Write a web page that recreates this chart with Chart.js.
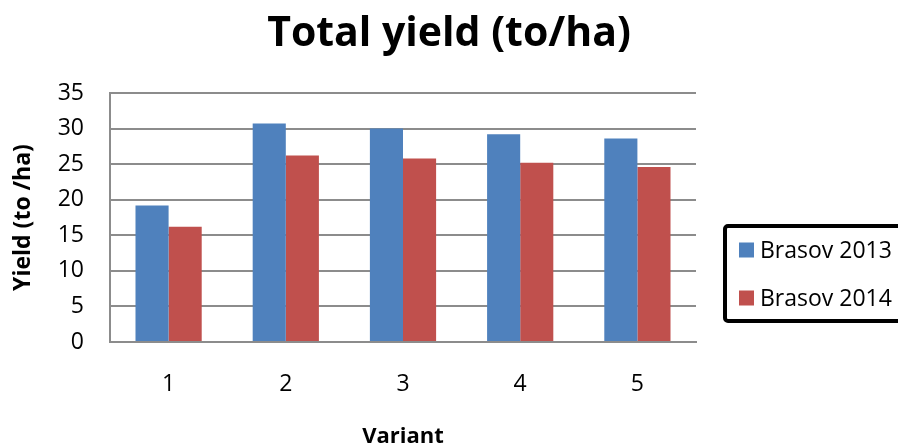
<!DOCTYPE html>
<html>
<head>
<meta charset="utf-8">
<script src="https://cdn.jsdelivr.net/npm/chart.js@4.4.1/dist/chart.umd.min.js"></script>
<style>
  html, body { margin: 0; padding: 0; background: #ffffff; }
  #wrap { width: 898px; height: 444px; }
</style>
</head>
<body>
<div id="wrap"><canvas id="chart" width="898" height="444"></canvas></div>
<script>
// Total yield per variant, two seasons at Brasov
const variants = ['1', '2', '3', '4', '5'];
const seriesNames = ['Brasov 2013', 'Brasov 2014'];
const yield2013 = [19.2, 30.7, 30.0, 29.2, 28.6];
const yield2014 = [16.2, 26.2, 25.8, 25.2, 24.6];
const seriesColors = ['#4F81BD', '#C0504D'];

const FONT = '"Open Sans", Lato, sans-serif';

// Boxed legend on the right side, drawn from the dataset list
const boxedLegend = {
  id: 'boxedLegend',
  afterDraw(chart) {
    const ctx = chart.ctx;
    const x0 = 725, y0 = 226, w = 190, h = 95;
    ctx.save();
    ctx.lineWidth = 4;
    ctx.strokeStyle = '#000000';
    ctx.beginPath();
    ctx.roundRect(x0, y0, w, h, 3);
    ctx.stroke();
    ctx.font = '23px ' + FONT;
    ctx.textBaseline = 'middle';
    ctx.textAlign = 'left';
    chart.data.datasets.forEach((ds, i) => {
      const cy = 250 + i * 48;
      ctx.fillStyle = ds.backgroundColor;
      ctx.fillRect(739, cy - 7.5, 15, 15);
      ctx.fillStyle = '#000000';
      ctx.fillText(ds.label, 760, cy + 1.5);
    });
    ctx.restore();
  }
};

new Chart(document.getElementById('chart'), {
  type: 'bar',
  data: {
    labels: variants,
    datasets: [
      { label: seriesNames[0], data: yield2013, backgroundColor: seriesColors[0], yAxisID: 'y' },
      { label: seriesNames[1], data: yield2014, backgroundColor: seriesColors[1], yAxisID: 'y' }
    ]
  },
  options: {
    responsive: false,
    animation: false,
    layout: { padding: 0 },
    datasets: { bar: { barPercentage: 1.0, categoryPercentage: 0.565 } },
    plugins: {
      legend: { display: false },
      tooltip: { enabled: false },
      title: {
        display: true,
        text: 'Total yield (to/ha)',
        color: '#000000',
        font: { family: FONT, size: 41, weight: 'bold', lineHeight: 1.2 },
        padding: { top: 9.6, bottom: 34.2 },
        align: 'center'
      }
    },
    scales: {
      x: {
        afterFit(scale) { scale.height = 102; },
        grid: { display: false, drawTicks: false },
        border: { display: true, color: '#8C8C8C', width: 2 },
        ticks: { color: '#000000', font: { family: FONT, size: 23, lineHeight: 1.2 }, padding: 29 },
        title: {
          display: true,
          text: 'Variant',
          color: '#000000',
          font: { family: FONT, size: 22, weight: 'bold', lineHeight: 1.2 },
          padding: { top: 0, bottom: -6 }
        }
      },
      y: {
        min: 0,
        max: 35,
        afterFit(scale) { scale.width = 110; },
        grid: { color: '#8C8C8C', lineWidth: 2, drawTicks: false },
        border: { display: true, color: '#8C8C8C', width: 2 },
        ticks: { stepSize: 5, color: '#000000', font: { family: FONT, size: 23 }, padding: 26 },
        title: {
          display: true,
          text: 'Yield (to /ha)',
          color: '#000000',
          font: { family: FONT, size: 23, weight: 'bold', lineHeight: 1.2 },
          padding: { top: 10, bottom: 0 }
        }
      },
      // empty right-hand band that leaves room for the legend box
      legendSpace: {
        type: 'linear',
        position: 'right',
        min: 0,
        max: 35,
        afterFit(scale) { scale.width = 202; },
        grid: { display: false, drawTicks: false },
        border: { display: false },
        ticks: { display: false }
      }
    }
  },
  plugins: [boxedLegend]
});
</script>
</body>
</html>
